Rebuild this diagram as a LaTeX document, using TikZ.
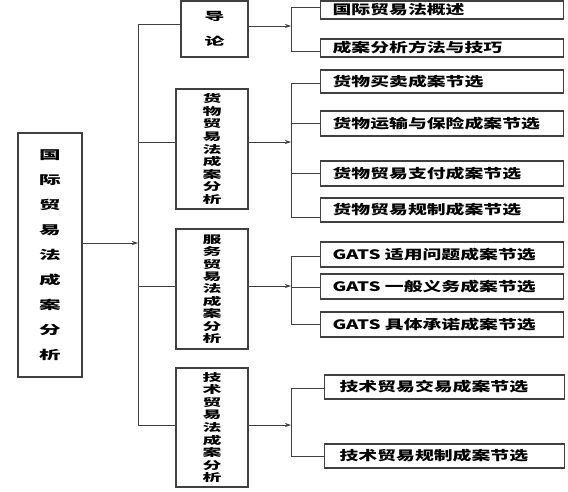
\documentclass[tikz,border=0pt]{standalone}
\usepackage{fontspec}
\newfontfamily\heiw{Noto Sans CJK SC}[FakeStretch=1.8]
\newfontfamily\heil{Noto Sans CJK SC}[FakeStretch=1.45]
\usetikzlibrary{arrows.meta}

\begin{document}
\begin{tikzpicture}[
  x=1pt, y=-1pt,
  >={Stealth[length=6pt,width=4pt]},
  link/.style={draw=black!75, line width=0.8pt},
  vbox/.style={draw=black!75, line width=1.2pt, align=center, inner sep=0pt},
  leaf/.style={draw=black!75, line width=1.2pt, anchor=west, inner xsep=12pt,
               inner ysep=0pt, text width=219pt, align=left,
               font=\heil\bfseries\fontsize{13}{15}\selectfont},
]
\useasboundingbox (0,0) rectangle (568,491);

% Root box
\node[vbox, minimum width=64pt, minimum height=244pt,
      font=\heiw\bfseries\fontsize{12}{25}\selectfont]
  (root) at (50,255) {国\\际\\贸\\易\\法\\成\\案\\分\\析};

% Four chapter boxes
\node[vbox, minimum width=67pt, minimum height=56pt,
      font=\heiw\bfseries\fontsize{11}{25}\selectfont]
  (intro) at (214.5,29) {导\\论};
\node[vbox, minimum width=72pt, minimum height=120pt,
      font=\heiw\bfseries\fontsize{10.5}{12.6}\selectfont]
  (goods) at (212,149) {货\\物\\贸\\易\\法\\成\\案\\分\\析};
\node[vbox, minimum width=72pt, minimum height=120pt,
      font=\heiw\bfseries\fontsize{10.5}{12.4}\selectfont]
  (service) at (212,289) {服\\务\\贸\\易\\法\\成\\案\\分\\析};
\node[vbox, minimum width=72pt, minimum height=119pt,
      font=\heiw\bfseries\fontsize{10.5}{12.6}\selectfont]
  (tech) at (212,427.5) {技\\术\\贸\\易\\法\\成\\案\\分\\析};

% Section boxes
\node[leaf, minimum height=18pt] (intro1) at (320,10)  {国际贸易法概述};
\node[leaf, minimum height=18pt] (intro2) at (320,48)  {成案分析方法与技巧};
\node[leaf, minimum height=23pt] (goods1) at (320,81.5)  {货物买卖成案节选};
\node[leaf, minimum height=25pt] (goods2) at (320,123.5) {货物运输与保险成案节选};
\node[leaf, minimum height=25pt] (goods3) at (320,173.5) {货物贸易支付成案节选};
\node[leaf, minimum height=24pt] (goods4) at (320,210)   {货物贸易规制成案节选};
\node[leaf, minimum height=25pt] (serv1) at (320,254.5) {GATS 适用问题成案节选};
\node[leaf, minimum height=25pt] (serv2) at (320,286.5) {GATS 一般义务成案节选};
\node[leaf, minimum height=25pt] (serv3) at (320,324.5) {GATS 具体承诺成案节选};
\node[leaf, minimum height=24pt, inner xsep=15pt, text width=210pt]
  (tech1) at (324,387) {技术贸易交易成案节选};
\node[leaf, minimum height=24pt, inner xsep=15pt, text width=210pt]
  (tech2) at (324,456) {技术贸易规制成案节选};

% Trunk from the root to the chapters
\coordinate (tr) at (138,243);
\coordinate (t1) at (138,24);
\coordinate (t2) at (138,142);
\coordinate (t3) at (138,286);
\coordinate (t4) at (138,425);
\draw[link, ->] (tr -| root.east) -- (tr);
\draw[link] (t1) -- (t4);
\draw[link] (t1) -- (t1 -| intro.west);
\draw[link] (t2) -- (t2 -| goods.west);
\draw[link] (t3) -- (t3 -| service.west);
\draw[link] (t4) -- (t4 -| tech.west);

% Brackets from each chapter to its sections
\coordinate (ja) at (291,26);
\coordinate (jb) at (291,142);
\coordinate (jc) at (291,286);
\coordinate (jd) at (291,425);
\draw[link, ->] (ja -| intro.east) -- (ja);
\draw[link, ->] (jb -| goods.east) -- (jb);
\draw[link, ->] (jc -| service.east) -- (jc);
\draw[link, ->] (jd -| tech.east) -- (jd);

\draw[link] (intro1.west |- 0,7) -- (291,7) -- (291,51) -- (intro2.west |- 0,51);
\draw[link] (goods1.west |- 0,83) -- (291,83) -- (291,217) -- (goods4.west |- 0,217);
\draw[link] (291,123) -- (goods2.west |- 0,123);
\draw[link] (291,173) -- (goods3.west |- 0,173);
\draw[link] (serv1.west |- 0,256) -- (291,256) -- (291,324) -- (serv3.west |- 0,324);
\draw[link] (291,287) -- (serv2.west |- 0,287);
\draw[link] (tech1.west |- 0,388) -- (291,388) -- (291,456) -- (tech2.west |- 0,456);

\end{tikzpicture}
\end{document}
